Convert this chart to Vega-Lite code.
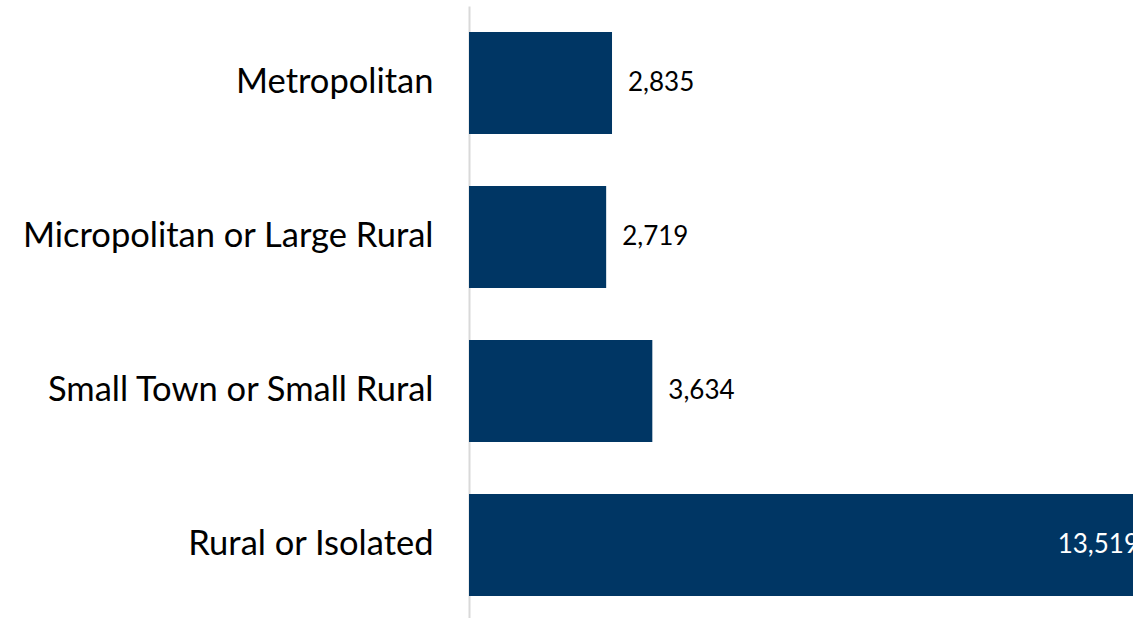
{
  "$schema": "https://vega.github.io/schema/vega-lite/v6.json",
  "autosize": "none",
  "width": 682,
  "height": 616,
  "padding": {"left": 469, "top": 6, "right": 0, "bottom": 0},
  "background": "white",
  "config": {"view": {"stroke": null}, "font": "Lato"},
  "data": {"values": [
    {"category": "Metropolitan", "value": 2835},
    {"category": "Micropolitan or Large Rural", "value": 2719},
    {"category": "Small Town or Small Rural", "value": 3634},
    {"category": "Rural or Isolated", "value": 13519}
  ]},
  "encoding": {
    "y": {"field": "category", "type": "nominal", "sort": null,
      "scale": {"paddingInner": 0.3377, "paddingOuter": 0.169},
      "axis": {"title": null, "ticks": false, "domainColor": "#d9d9d9", "domainWidth": 2,
        "labelFont": "Lato", "labelFontSize": 34.5, "labelColor": "#000000", "labelPadding": 36, "labelLimit": 500}},
    "x": {"field": "value", "type": "quantitative", "scale": {"domain": [0, 13519], "nice": false},
      "axis": null}
  },
  "layer": [
    {"mark": {"type": "bar", "color": "#003664"}},
    {"transform": [{"filter": "datum.value < 10000"}],
     "mark": {"type": "text", "align": "left", "baseline": "middle", "dx": 16, "fontSize": 26, "font": "Lato", "color": "#000000"},
     "encoding": {"text": {"field": "value", "type": "quantitative", "format": ","}}},
    {"transform": [{"filter": "datum.value >= 10000"}],
     "mark": {"type": "text", "align": "right", "baseline": "middle", "dx": -12, "fontSize": 26, "font": "Lato", "color": "#ffffff"},
     "encoding": {"text": {"field": "value", "type": "quantitative", "format": ","}}}
  ]
}
